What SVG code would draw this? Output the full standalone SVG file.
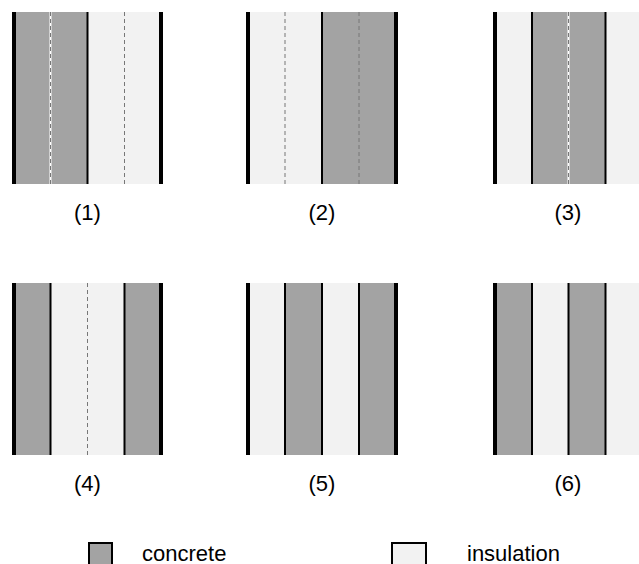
<svg xmlns="http://www.w3.org/2000/svg" width="639" height="564" viewBox="0 0 639 564">
<style>
.c{fill:#a3a3a3}
.i{fill:#f2f2f2}
.edge{stroke:#000;stroke-width:4}
.bd{stroke:#000;stroke-width:2}
.cc{stroke:#fff;stroke-width:2}
.ds{stroke:#777;stroke-width:1;stroke-dasharray:4 3}
.lbl{font-family:"Liberation Sans",Arial,sans-serif;font-size:22px;fill:#000;text-anchor:middle}
.leg{font-family:"Liberation Sans",Arial,sans-serif;font-size:22px;fill:#000}
.box{stroke:#000;stroke-width:2}
</style>
<rect width="639" height="564" fill="#fff"/>
<g id="panel1">
<rect class="c" x="14" y="12" width="73.5" height="172"/>
<rect class="i" x="87.5" y="12" width="73.5" height="172"/>
<line class="cc" x1="50.5" y1="12" x2="50.5" y2="184"/>
<line class="ds" x1="50.5" y1="12" x2="50.5" y2="184"/>
<line class="bd" x1="87.5" y1="12" x2="87.5" y2="184"/>
<line class="ds" x1="124.5" y1="12" x2="124.5" y2="184"/>
<line class="edge" x1="14" y1="12" x2="14" y2="184"/>
<line class="edge" x1="161" y1="12" x2="161" y2="184"/>
<text class="lbl" x="87.5" y="220">(1)</text>
</g>
<g id="panel2">
<rect class="i" x="248" y="12" width="74" height="172"/>
<rect class="c" x="322" y="12" width="74" height="172"/>
<line class="ds" x1="285" y1="12" x2="285" y2="184"/>
<line class="bd" x1="322" y1="12" x2="322" y2="184"/>
<line class="ds" x1="359" y1="12" x2="359" y2="184"/>
<line class="edge" x1="248" y1="12" x2="248" y2="184"/>
<line class="edge" x1="396" y1="12" x2="396" y2="184"/>
<text class="lbl" x="322" y="220">(2)</text>
</g>
<g id="panel3">
<rect class="i" x="495" y="12" width="37" height="172"/>
<rect class="c" x="532" y="12" width="73.5" height="172"/>
<rect class="i" x="605.5" y="12" width="34" height="172"/>
<line class="bd" x1="532" y1="12" x2="532" y2="184"/>
<line class="cc" x1="568.5" y1="12" x2="568.5" y2="184"/>
<line class="ds" x1="568.5" y1="12" x2="568.5" y2="184"/>
<line class="bd" x1="605.5" y1="12" x2="605.5" y2="184"/>
<line class="edge" x1="495" y1="12" x2="495" y2="184"/>
<text class="lbl" x="568" y="220">(3)</text>
</g>
<g id="panel4">
<rect class="c" x="14" y="283" width="36.5" height="172"/>
<rect class="i" x="50.5" y="283" width="74" height="172"/>
<rect class="c" x="124.5" y="283" width="36.5" height="172"/>
<line class="bd" x1="50.5" y1="283" x2="50.5" y2="455"/>
<line class="ds" x1="87.5" y1="283" x2="87.5" y2="455"/>
<line class="bd" x1="124.5" y1="283" x2="124.5" y2="455"/>
<line class="edge" x1="14" y1="283" x2="14" y2="455"/>
<line class="edge" x1="161" y1="283" x2="161" y2="455"/>
<text class="lbl" x="87.5" y="491">(4)</text>
</g>
<g id="panel5">
<rect class="i" x="248" y="283" width="37" height="172"/>
<rect class="c" x="285" y="283" width="37" height="172"/>
<rect class="i" x="322" y="283" width="37" height="172"/>
<rect class="c" x="359" y="283" width="37" height="172"/>
<line class="bd" x1="285" y1="283" x2="285" y2="455"/>
<line class="bd" x1="322" y1="283" x2="322" y2="455"/>
<line class="bd" x1="359" y1="283" x2="359" y2="455"/>
<line class="edge" x1="248" y1="283" x2="248" y2="455"/>
<line class="edge" x1="396" y1="283" x2="396" y2="455"/>
<text class="lbl" x="322" y="491">(5)</text>
</g>
<g id="panel6">
<rect class="c" x="495" y="283" width="37" height="172"/>
<rect class="i" x="532" y="283" width="36.5" height="172"/>
<rect class="c" x="568.5" y="283" width="37" height="172"/>
<rect class="i" x="605.5" y="283" width="34" height="172"/>
<line class="bd" x1="532" y1="283" x2="532" y2="455"/>
<line class="bd" x1="568.5" y1="283" x2="568.5" y2="455"/>
<line class="bd" x1="605.5" y1="283" x2="605.5" y2="455"/>
<line class="edge" x1="495" y1="283" x2="495" y2="455"/>
<text class="lbl" x="568" y="491">(6)</text>
</g>
<g id="legend-concrete">
<rect class="c box" x="89" y="543" width="23" height="30"/>
<text class="leg" x="142" y="561">concrete</text>
</g>
<g id="legend-insulation">
<rect class="i box" x="392" y="543" width="34" height="30"/>
<text class="leg" x="467" y="561">insulation</text>
</g>
</svg>
